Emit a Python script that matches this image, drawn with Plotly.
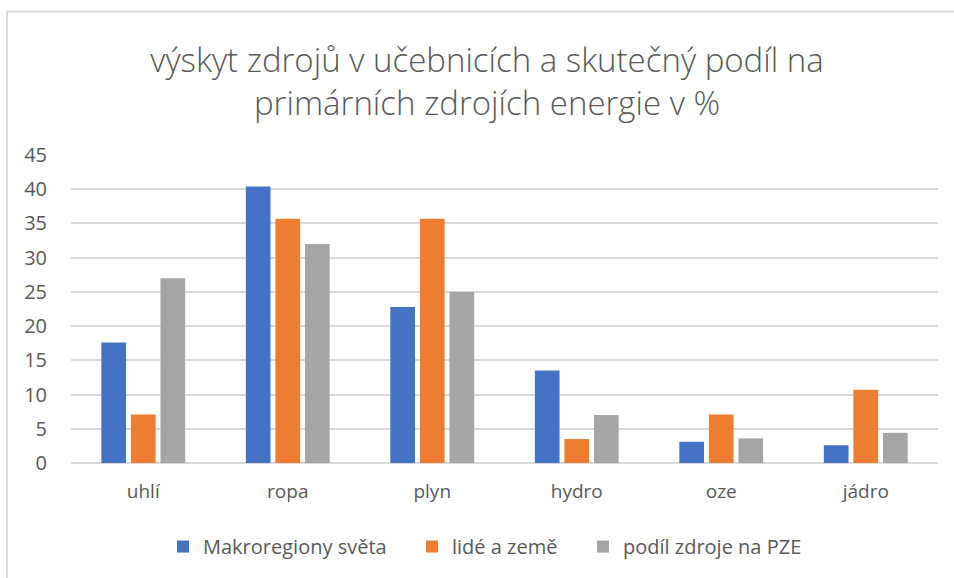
import plotly.graph_objects as go

categories = ["uhlí", "ropa", "plyn", "hydro", "oze", "jádro"]
makroregiony = [17.6, 40.4, 22.8, 13.5, 3.1, 2.6]
lide_a_zeme = [7.1, 35.7, 35.7, 3.5, 7.1, 10.7]
podil_pze = [27.0, 32.0, 25.0, 7.0, 3.6, 4.4]
series_names = ["Makroregiony světa", "lidé a země", "podíl zdroje na PZE"]
colors = ["#4472C4", "#ED7D31", "#A5A5A5"]
y_ticks = [0, 5, 10, 15, 20, 25, 30, 35, 40, 45]

FONT = "Open Sans"
TXT = "#595959"
PL, PW = 71, 867
legend_ids = ["legend", "legend2", "legend3"]
legend_px = [163, 412, 583]

fig = go.Figure()
for name, vals, col, lid in zip(series_names, [makroregiony, lide_a_zeme, podil_pze], colors, legend_ids):
    fig.add_trace(go.Bar(x=categories, y=vals, name=name, legend=lid,
                         marker=dict(color=col, line=dict(width=0))))

leg_y = -(547 - 463.3) / 308.6
legends = {}
for lid, px in zip(legend_ids, legend_px):
    legends[lid] = dict(orientation="h", x=(px - PL) / PW, xanchor="left", y=leg_y, yanchor="middle",
                        font=dict(size=20, color=TXT), itemwidth=30, bgcolor="rgba(0,0,0,0)")

fig.update_layout(
    width=954, height=578,
    paper_bgcolor="white", plot_bgcolor="white",
    margin=dict(l=PL, r=16, t=155, b=115),
    barmode="group", bargap=0.386, bargroupgap=0.165,
    title=dict(
        text="výskyt zdrojů v učebnicích a skutečný podíl na<br>primárních zdrojích energie v %",
        x=(487 - PL) / PW, xanchor="center", xref="paper", y=1 - 72 / 578, yanchor="middle",
        font=dict(family=FONT, size=33, color=TXT, weight=300),
    ),
    font=dict(family=FONT, color=TXT),
    xaxis=dict(tickfont=dict(size=19, color=TXT), showline=False, ticks="", showgrid=False,
               ticklabelstandoff=15),
    yaxis=dict(range=[0, 45], tickvals=y_ticks, tickfont=dict(size=20, color=TXT),
               showgrid=True, gridcolor="#D9D9D9", gridwidth=1.5, zeroline=True,
               zerolinecolor="#D9D9D9", zerolinewidth=1.5, ticks="", ticklabelstandoff=23),
    showlegend=True,
    **legends,
)

# chart-area border (light grey) like the source
fig.add_shape(type="line", xref="paper", yref="paper",
              x0=(7 - PL) / PW, x1=(7 - PL) / PW, y0=(463.3 - 11) / 308.6, y1=(463.3 - 580) / 308.6,
              line=dict(color="#D9D9D9", width=2))
fig.add_shape(type="line", xref="paper", yref="paper",
              x0=(7 - PL) / PW, x1=(956 - PL) / PW, y0=(463.3 - 11) / 308.6, y1=(463.3 - 11) / 308.6,
              line=dict(color="#D9D9D9", width=2))

fig.write_html("out.html", config={"displayModeBar": False},
               post_script="document.body.style.margin='0';")
